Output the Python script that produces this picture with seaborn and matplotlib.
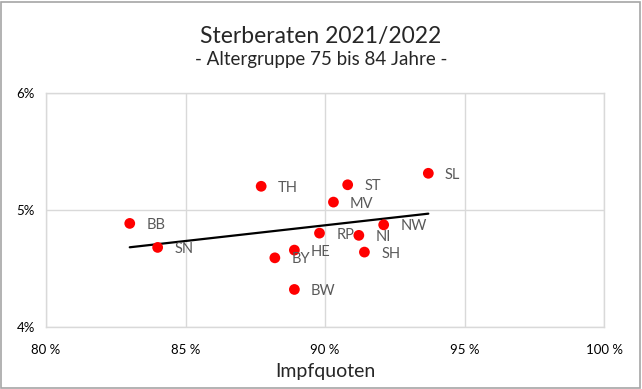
import matplotlib
matplotlib.use("Agg")
import matplotlib.pyplot as plt
import seaborn as sns
import pandas as pd

states = ["BB", "SN", "TH", "BY", "HE", "BW", "RP", "MV", "ST", "NI", "SH", "NW", "SL"]
impfquote = [83.0, 84.0, 87.71, 88.2, 88.9, 88.9, 89.8, 90.3, 90.81, 91.21, 91.41, 92.1, 93.7]
sterberate = [4.886, 4.681, 5.203, 4.592, 4.658, 4.322, 4.803, 5.068, 5.216, 4.784, 4.641, 4.874, 5.314]
x_ticks = [80, 85, 90, 95, 100]
y_ticks = [4, 5, 6]

df = pd.DataFrame({"state": states, "x": impfquote, "y": sterberate})

sns.set_theme(style="white")
plt.rcParams["font.family"] = ["Lato", "DejaVu Sans"]

fig = plt.figure(figsize=(6.42, 3.89), dpi=100)
ax = fig.add_axes([0.0717, 0.159, 0.8693, 0.602])

sns.regplot(data=df, x="x", y="y", scatter=False, ci=None, truncate=True,
            line_kws=dict(color="black", lw=1.6), ax=ax)
sns.scatterplot(data=df, x="x", y="y", color="#ff0000", s=60, edgecolor="none",
                ax=ax, zorder=3)

for s, xv, yv in zip(states, impfquote, sterberate):
    ax.annotate(s, (xv, yv), xytext=(12, -4), textcoords="offset points",
                fontsize=10.5, color="#595959")

ax.set_xlim(80, 100)
ax.set_ylim(4, 6)
ax.set_xticks(x_ticks)
ax.set_xticklabels([f"{t} %" for t in x_ticks], fontsize=9.5, color="#000000")
ax.set_yticks(y_ticks)
ax.set_yticklabels([f"{t}%" for t in y_ticks], fontsize=9.5, color="#000000")
ax.tick_params(axis="x", pad=12, length=0)
ax.tick_params(axis="y", pad=8, length=0)
ax.grid(True, color="#d9d9d9", lw=1)
for sp in ax.spines.values():
    sp.set_color("#d9d9d9")
    sp.set_linewidth(1)
ax.set_xlabel("Impfquoten", fontsize=14, labelpad=5)
ax.set_ylabel("")

fig.text(0.5, 0.905, "Sterberaten 2021/2022", ha="center", va="center", fontsize=16.5)
fig.text(0.5, 0.848, "- Altergruppe 75 bis 84 Jahre -", ha="center", va="center", fontsize=13.5)

fig.patches.append(plt.Rectangle((0.002, 0.003), 0.995, 0.993, transform=fig.transFigure,
                                 fill=False, edgecolor="#a6a6a6", lw=1.2))

fig.savefig("out.png", dpi=100)
